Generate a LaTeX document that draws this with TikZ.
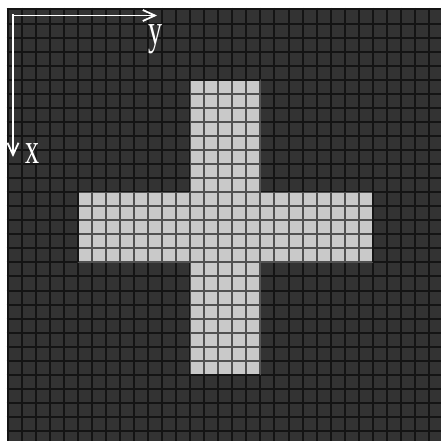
\documentclass[tikz,border=0pt]{standalone}
\usepackage{fontspec}
\setmainfont{Liberation Serif}
\usetikzlibrary{arrows.meta}
\definecolor{cellDark}{HTML}{333333}
\definecolor{cellLight}{HTML}{C9C9C9}
\definecolor{lineDark}{HTML}{141414}
\definecolor{lineLight}{HTML}{505050}

\begin{document}
\begin{tikzpicture}[
  x=1pt,
  y=-1pt,
  gridline/.style={line width=2pt},
  axis/.style={draw=white,line width=1.8pt,shorten <=-1pt,
    -{Straight Barb[length=12pt,width=11pt,line width=1.8pt]}},
  axislabel/.style={text=white,inner sep=0pt,font=\fontsize{28}{28}\selectfont}
]
\useasboundingbox[fill=white] (0,0) rectangle (441,441);
\def\cell{14.05}
\def\gridlines{%
  \foreach \k in {0,...,31} {
    \draw[gridline] ({7.5+\k*\cell},8) -- ({7.5+\k*\cell},441);
    \draw[gridline] (6.5,{9.5+\k*\cell}) -- (441,{9.5+\k*\cell});
  }}

% dark field
\begin{scope}
  \clip (6.5,8) rectangle (441,441);
  \fill[cellDark] (6.5,8) rectangle (441,441);
  \begin{scope}[lineDark]
    \gridlines
  \end{scope}
\end{scope}

% light cross
\begin{scope}
  \clip ({7.5+13*\cell},{9.5+5*\cell}) rectangle ({7.5+18*\cell},{9.5+26*\cell})
        ({7.5+5*\cell},{9.5+13*\cell}) rectangle ({7.5+26*\cell},{9.5+18*\cell});
  \fill[cellLight] (0,0) rectangle (441,441);
  \begin{scope}[lineLight]
    \gridlines
  \end{scope}
\end{scope}
\draw[gridline,lineDark] ({7.5+13*\cell},{9.5+5*\cell}) -- ({7.5+18*\cell},{9.5+5*\cell})
  ({7.5+13*\cell},{9.5+26*\cell}) -- ({7.5+18*\cell},{9.5+26*\cell})
  ({7.5+5*\cell},{9.5+13*\cell}) -- ({7.5+5*\cell},{9.5+18*\cell})
  ({7.5+26*\cell},{9.5+13*\cell}) -- ({7.5+26*\cell},{9.5+18*\cell});

% axes
\coordinate (origin) at (13,15.5);
\coordinate (yend) at (157,15.5);
\coordinate (xend) at (13,157);
\draw[axis] (origin) -- (yend);
\draw[axis] (origin) -- (xend);
\node[axislabel] (ylabel) at (155,39) {\scalebox{1}[1.55]{y}};
\node[axislabel] (xlabel) at (32,154) {\scalebox{1}[1.55]{x}};

\end{tikzpicture}
\end{document}
